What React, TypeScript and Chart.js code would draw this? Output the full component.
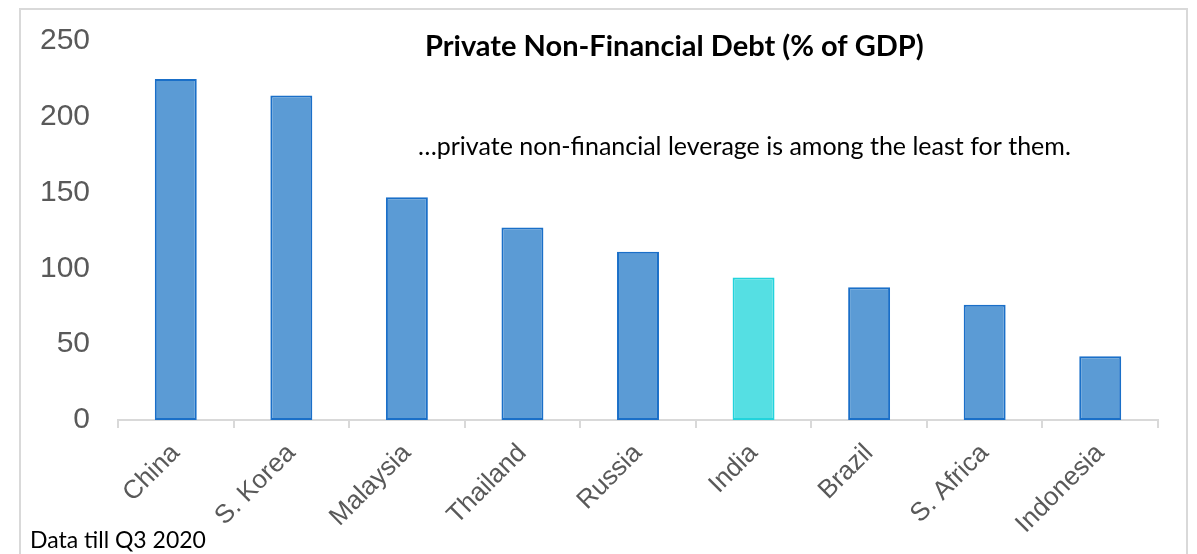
import React, { useEffect, useRef } from "react";
import { Chart, registerables } from "chart.js";

Chart.register(...registerables);

const categories = ["China", "S. Korea", "Malaysia", "Thailand", "Russia", "India", "Brazil", "S. Africa", "Indonesia"];
const debtValues = [225, 214, 147, 127, 111, 94, 87.5, 76, 42];
const highlightCategory = "India";
const yTicks = [0, 50, 100, 150, 200, 250];
const titleText = "Private Non-Financial Debt (% of GDP)";
const noteText = "…private non-financial leverage is among the least for them.";
const footText = "Data till Q3 2020";

const W = 1197;
const H = 554;

export default function App() {
  const ref = useRef<HTMLCanvasElement | null>(null);

  useEffect(() => {
    if (!ref.current) return;
    const fills = categories.map((c) => (c === highlightCategory ? "#55dfe3" : "#5b9bd5"));
    const borders = categories.map((c) => (c === highlightCategory ? "#22d3dc" : "#1a6fc8"));

    const decor = {
      id: "decor",
      beforeDraw(chart: any) {
        const ctx = chart.ctx;
        ctx.save();
        ctx.fillStyle = "#ffffff";
        ctx.fillRect(0, 0, W, H);
        ctx.strokeStyle = "#d9d9d9";
        ctx.lineWidth = 2;
        ctx.beginPath();
        ctx.moveTo(20, H + 5);
        ctx.lineTo(20, 9);
        ctx.lineTo(1187, 9);
        ctx.lineTo(1187, H + 5);
        ctx.stroke();
        ctx.restore();
      },
      afterDraw(chart: any) {
        const ctx = chart.ctx;
        ctx.save();
        ctx.fillStyle = "#000000";
        ctx.textBaseline = "alphabetic";
        ctx.textAlign = "left";
        ctx.font = "bold 29px Lato";
        ctx.fillText(titleText, 425, 56);
        ctx.font = "25px Lato";
        ctx.fillText(noteText, 418, 155);
        ctx.font = "23px Lato";
        ctx.fillText(footText, 30, 548);
        ctx.restore();
      },
    };

    const chart = new Chart(ref.current, {
      type: "bar",
      data: {
        labels: categories,
        datasets: [
          {
            data: debtValues,
            backgroundColor: fills,
            borderColor: borders,
            borderWidth: 2,
            borderSkipped: false,
            categoryPercentage: 1,
            barPercentage: 0.363,
          },
        ],
      },
      options: {
        responsive: false,
        animation: false,
        devicePixelRatio: 1,
        layout: { padding: { left: 0, top: 41, right: 39, bottom: 0 } },
        plugins: { legend: { display: false }, title: { display: false }, tooltip: { enabled: false } },
        scales: {
          x: {
            grid: { display: true, drawOnChartArea: false, drawTicks: true, tickLength: 8, color: "#d9d9d9", lineWidth: 2, offset: true },
            border: { display: true, color: "#d9d9d9", width: 2 },
            ticks: {
              minRotation: 45,
              maxRotation: 45,
              autoSkip: false,
              padding: 10,
              color: "#595959",
              font: { family: "Liberation Sans, Arial", size: 26 },
            },
            afterFit: (s: any) => {
              s.height = 134;
              s.paddingLeft = 0;
              s.paddingRight = 0;
            },
          },
          y: {
            min: 0,
            max: 250,
            afterBuildTicks: (s: any) => {
              s.ticks = yTicks.map((v) => ({ value: v }));
            },
            grid: { display: false, drawTicks: false },
            border: { display: false },
            ticks: {
              padding: 28,
              color: "#595959",
              font: { family: "Liberation Sans, Arial", size: 30 },
            },
            afterFit: (s: any) => {
              s.width = 118;
              s.paddingTop = 0;
              s.paddingBottom = 0;
            },
          },
        },
      },
      plugins: [decor],
    });
    return () => chart.destroy();
  }, []);

  return (
    <div style={{ position: "absolute", left: 0, top: 0, width: W, height: H, background: "#fff" }}>
      <canvas ref={ref} width={W} height={H} style={{ display: "block", width: W, height: H }} />
    </div>
  );
}
